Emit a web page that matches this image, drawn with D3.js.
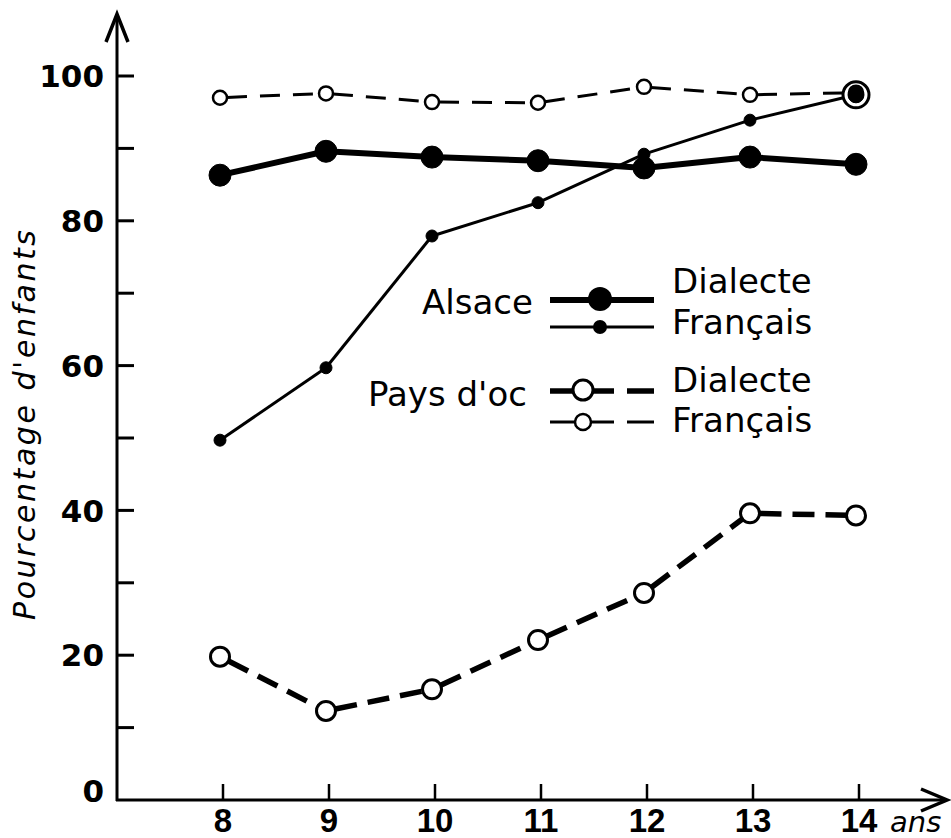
<!DOCTYPE html>
<html><head><meta charset="utf-8">
<script src="https://cdn.jsdelivr.net/npm/d3@7"></script>
<style>
html,body{margin:0;padding:0;background:#fff;}
svg{display:block;font-family:"DejaVu Sans",sans-serif;}
</style></head>
<body>
<svg id="chart" width="951" height="838"></svg>
<script>
// ---- data ----
const ages = [8, 9, 10, 11, 12, 13, 14];
const alsaceDialecte   = [86.3, 89.6, 88.8, 88.3, 87.3, 88.8, 87.8];
const alsaceFrancais   = [49.7, 59.7, 77.9, 82.5, 89.2, 93.9, 97.4];
const ocDialecte       = [19.8, 12.3, 15.3, 22.1, 28.6, 39.6, 39.3];
const ocFrancais       = [97.0, 97.6, 96.4, 96.3, 98.5, 97.4, 97.7];
const yMajorTicks = [0, 20, 40, 60, 80, 100];
const yMinorTicks = [10, 30, 50, 70, 90];
const yTitle = "Pourcentage d'enfants";
const xUnit = "ans";

const svg = d3.select("#chart");
const x = d3.scaleLinear().domain([8, 14]).range([220, 856]);
const y = d3.scaleLinear().domain([0, 100]).range([800, 76]);
const axisX0 = 117, axisY0 = 800;

// ---- axes ----
const ax = svg.append("g").attr("stroke", "#000").attr("fill", "none");
ax.append("line").attr("x1", axisX0).attr("x2", axisX0).attr("y1", axisY0 + 1).attr("y2", 16).attr("stroke-width", 3);
ax.append("path").attr("d", `M${axisX0-11},42 L${axisX0},14 L${axisX0+11},42`).attr("stroke-width", 3.5).attr("stroke-linejoin","miter");
ax.append("line").attr("x1", axisX0 - 1).attr("x2", 945).attr("y1", axisY0).attr("y2", axisY0).attr("stroke-width", 3);
ax.append("path").attr("d", `M921,789 L947,800 L921,811`).attr("stroke-width", 3.5);

// y ticks
ax.selectAll(".yt").data(yMajorTicks.filter(d => d > 0).concat(yMinorTicks)).enter()
  .append("line").attr("x1", axisX0).attr("x2", axisX0 + 17)
  .attr("y1", d => y(d)).attr("y2", d => y(d)).attr("stroke-width", 3);
// x ticks
ax.selectAll(".xt").data(ages).enter()
  .append("line").attr("x1", d => x(d) + 3).attr("x2", d => x(d) + 3)
  .attr("y1", axisY0 - 16).attr("y2", axisY0).attr("stroke-width", 2.5);

// tick labels
svg.selectAll(".yl").data(yMajorTicks).enter().append("text")
  .attr("x", 104).attr("y", d => y(d) + (d === 0 ? -9 : 0))
  .attr("dy", "0.36em").attr("text-anchor", "end")
  .attr("font-size", 31).attr("font-weight", "bold").text(d => d);
svg.selectAll(".xl").data(ages).enter().append("text")
  .attr("x", d => x(d) + 3).attr("y", 832).attr("text-anchor", "middle")
  .attr("font-family", "'Liberation Sans', Arial, sans-serif")
  .attr("font-size", 33).attr("font-weight", "bold").text(d => d);
svg.append("text").attr("x", 890).attr("y", 832).attr("font-size", 29)
  .attr("font-style", "italic").text(xUnit);

// y title
svg.append("text").attr("transform", "translate(35,425) rotate(-90)")
  .attr("text-anchor", "middle").attr("font-size", 30).attr("font-style", "italic")
  .attr("textLength", 390).attr("lengthAdjust", "spacing").text(yTitle);

// ---- series ----
const series = [
  { key: "ocFr",  vals: ocFrancais,     width: 3,   dash: "20,13", r: 7,  fill: "#fff", sw: 2.5 },
  { key: "alsDi", vals: alsaceDialecte, width: 6,   dash: null,    r: 11, fill: "#000", sw: 1 },
  { key: "alsFr", vals: alsaceFrancais, width: 3,   dash: null,    r: 6,  fill: "#000", sw: 1 },
  { key: "ocDi",  vals: ocDialecte,     width: 5.5, dash: "22,11", r: 9.5, fill: "#fff", sw: 3 }
];

series.forEach(s => {
  const pts = ages.map((a, i) => [x(a), y(s.vals[i])]);
  const g = svg.append("g");
  const segs = d3.pairs(pts);
  g.selectAll("line").data(segs).enter().append("line")
    .attr("x1", d => d[0][0]).attr("y1", d => d[0][1])
    .attr("x2", d => d[1][0]).attr("y2", d => d[1][1])
    .attr("stroke", "#000").attr("stroke-width", s.width)
    .attr("stroke-linecap", "butt")
    .attr("stroke-dasharray", s.dash)
    .attr("stroke-dashoffset", s.dash ? -s.r : null);
  s.pts = pts;
});

// highlight ring around the final French (Alsace) point
const lastI = ages.length - 1;
svg.append("circle").attr("cx", x(ages[lastI])).attr("cy", y(alsaceFrancais[lastI]))
  .attr("r", 13).attr("fill", "#fff").attr("stroke", "#000").attr("stroke-width", 3);

series.forEach(s => {
  svg.append("g").selectAll("circle").data(s.pts).enter().append("circle")
    .attr("cx", d => d[0]).attr("cy", d => d[1]).attr("r", (d, i) => (s.key === "alsFr" && i === lastI) ? 8 : s.r)
    .attr("fill", s.fill).attr("stroke", "#000").attr("stroke-width", s.sw);
});
// re-draw final Alsace French dot on top
svg.append("circle").attr("cx", x(ages[lastI])).attr("cy", y(alsaceFrancais[lastI]))
  .attr("r", 8).attr("fill", "#000");

// ---- legend ----
const lg = svg.append("g");
const legText = (t, xx, yy) => lg.append("text").attr("x", xx).attr("y", yy).attr("font-size", 34).text(t);
legText("Alsace", 422, 314);
legText("Pays d'oc", 368, 406);
legText("Dialecte", 672, 293);
legText("Français", 672, 334);
legText("Dialecte", 672, 392);
legText("Français", 672, 432);

// Alsace Dialecte sample
lg.append("line").attr("x1", 550).attr("x2", 654).attr("y1", 300).attr("y2", 300).attr("stroke", "#000").attr("stroke-width", 6);
lg.append("circle").attr("cx", 600).attr("cy", 299).attr("r", 12).attr("fill", "#000");
// Alsace Français sample
lg.append("line").attr("x1", 550).attr("x2", 654).attr("y1", 327).attr("y2", 327).attr("stroke", "#000").attr("stroke-width", 3);
lg.append("circle").attr("cx", 600).attr("cy", 327).attr("r", 7).attr("fill", "#000");
// Pays d'oc Dialecte sample
lg.append("line").attr("x1", 550).attr("x2", 614).attr("y1", 391).attr("y2", 391).attr("stroke", "#000").attr("stroke-width", 5.5);
lg.append("line").attr("x1", 627).attr("x2", 654).attr("y1", 391).attr("y2", 391).attr("stroke", "#000").attr("stroke-width", 5.5);
lg.append("circle").attr("cx", 583).attr("cy", 390).attr("r", 10).attr("fill", "#fff").attr("stroke", "#000").attr("stroke-width", 3);
// Pays d'oc Français sample
lg.append("line").attr("x1", 550).attr("x2", 614).attr("y1", 422).attr("y2", 422).attr("stroke", "#000").attr("stroke-width", 3);
lg.append("line").attr("x1", 627).attr("x2", 654).attr("y1", 422).attr("y2", 422).attr("stroke", "#000").attr("stroke-width", 3);
lg.append("circle").attr("cx", 583).attr("cy", 422).attr("r", 8).attr("fill", "#fff").attr("stroke", "#000").attr("stroke-width", 2.5);
</script>
</body></html>
